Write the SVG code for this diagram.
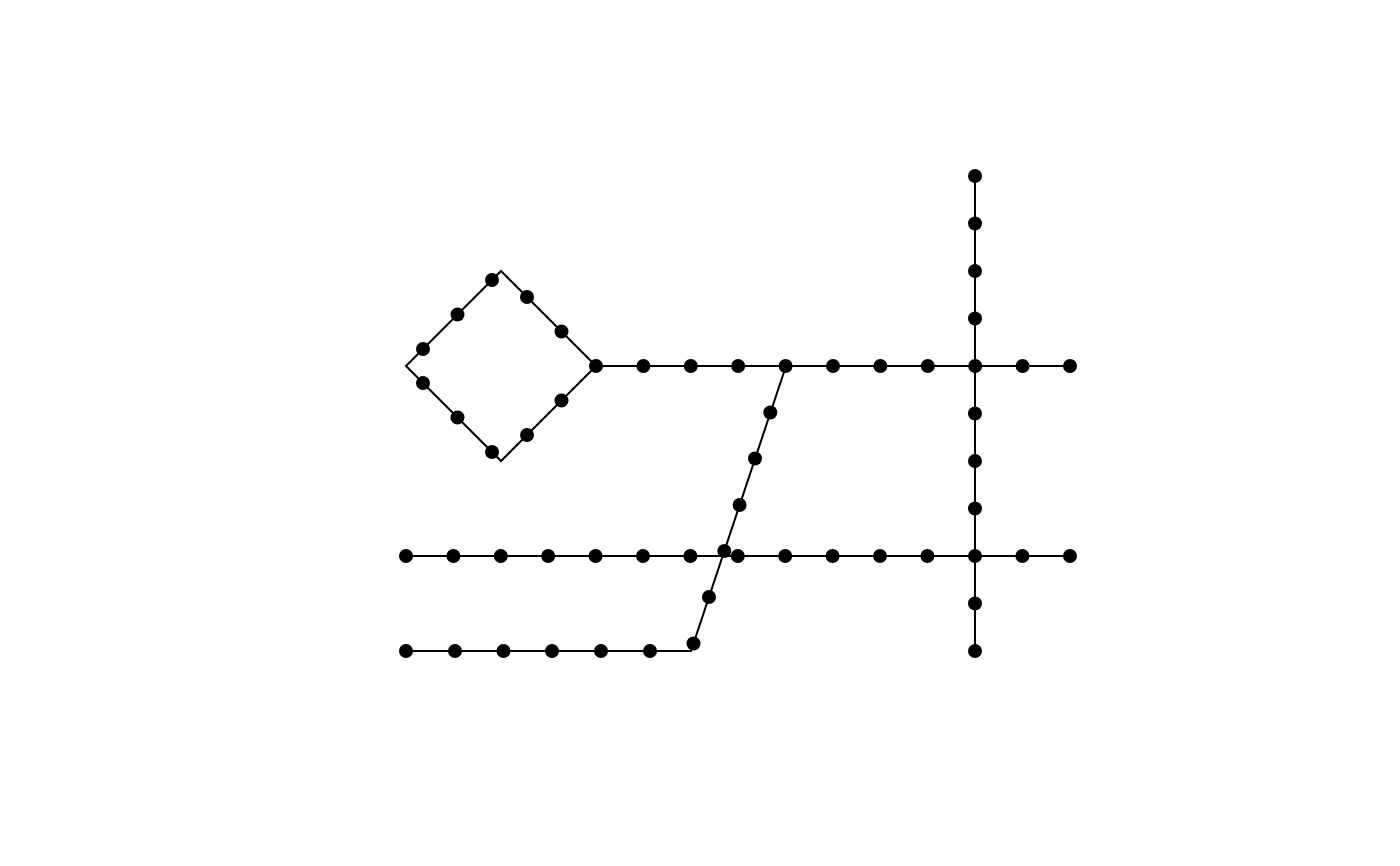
<svg xmlns="http://www.w3.org/2000/svg" width="1400" height="866" viewBox="0 0 1400 866">
<style>
.e{fill:none;stroke:#000;stroke-width:2;stroke-linejoin:miter}
.n{fill:#000}
</style>
<rect width="1400" height="866" fill="#fff"/>
<g id="connectors">
<path class="e" d="M596,366 L501,271 L406,366 L501,461 Z"/>
<path class="e" d="M596,366 L1070,366"/>
<path class="e" d="M975,176 L975,651"/>
<path class="e" d="M406,556 L1070,556"/>
<path class="e" d="M406,651 L691,651 L786,366"/>
</g>
<g id="nodes">
<g id="diamond">
<circle class="n" cx="423" cy="349" r="7"/>
<circle class="n" cx="457.5" cy="314.5" r="7"/>
<circle class="n" cx="492" cy="280" r="7"/>
<circle class="n" cx="527" cy="297" r="7"/>
<circle class="n" cx="561.5" cy="331.5" r="7"/>
<circle class="n" cx="561.5" cy="400.5" r="7"/>
<circle class="n" cx="527" cy="435" r="7"/>
<circle class="n" cx="492" cy="452" r="7"/>
<circle class="n" cx="457.5" cy="417.5" r="7"/>
<circle class="n" cx="423" cy="383" r="7"/>
</g>
<g id="top-row">
<circle class="n" cx="596" cy="366" r="7"/>
<circle class="n" cx="643.4" cy="366" r="7"/>
<circle class="n" cx="690.8" cy="366" r="7"/>
<circle class="n" cx="738.2" cy="366" r="7"/>
<circle class="n" cx="785.6" cy="366" r="7"/>
<circle class="n" cx="833" cy="366" r="7"/>
<circle class="n" cx="880.4" cy="366" r="7"/>
<circle class="n" cx="927.8" cy="366" r="7"/>
<circle class="n" cx="975.2" cy="366" r="7"/>
<circle class="n" cx="1022.6" cy="366" r="7"/>
<circle class="n" cx="1070" cy="366" r="7"/>
</g>
<g id="vertical">
<circle class="n" cx="975" cy="176" r="7"/>
<circle class="n" cx="975" cy="223.5" r="7"/>
<circle class="n" cx="975" cy="271" r="7"/>
<circle class="n" cx="975" cy="318.5" r="7"/>
<circle class="n" cx="975" cy="413.5" r="7"/>
<circle class="n" cx="975" cy="461" r="7"/>
<circle class="n" cx="975" cy="508.5" r="7"/>
<circle class="n" cx="975" cy="603.5" r="7"/>
<circle class="n" cx="975" cy="651" r="7"/>
</g>
<g id="middle-row">
<circle class="n" cx="406" cy="556" r="7"/>
<circle class="n" cx="453.4" cy="556" r="7"/>
<circle class="n" cx="500.8" cy="556" r="7"/>
<circle class="n" cx="548.2" cy="556" r="7"/>
<circle class="n" cx="595.6" cy="556" r="7"/>
<circle class="n" cx="643" cy="556" r="7"/>
<circle class="n" cx="690.4" cy="556" r="7"/>
<circle class="n" cx="737.8" cy="556" r="7"/>
<circle class="n" cx="785.2" cy="556" r="7"/>
<circle class="n" cx="832.6" cy="556" r="7"/>
<circle class="n" cx="880" cy="556" r="7"/>
<circle class="n" cx="927.4" cy="556" r="7"/>
<circle class="n" cx="975" cy="556" r="7"/>
<circle class="n" cx="1022.4" cy="556" r="7"/>
<circle class="n" cx="1070" cy="556" r="7"/>
</g>
<g id="bottom-row">
<circle class="n" cx="406" cy="651" r="7"/>
<circle class="n" cx="455" cy="651" r="7"/>
<circle class="n" cx="503.5" cy="651" r="7"/>
<circle class="n" cx="552" cy="651" r="7"/>
<circle class="n" cx="601" cy="651" r="7"/>
<circle class="n" cx="650" cy="651" r="7"/>
</g>
<g id="diagonal">
<circle class="n" cx="693.5" cy="643.5" r="7"/>
<circle class="n" cx="709" cy="597" r="7"/>
<circle class="n" cx="724.3" cy="551" r="7"/>
<circle class="n" cx="739.6" cy="505" r="7"/>
<circle class="n" cx="755" cy="458.5" r="7"/>
<circle class="n" cx="770.3" cy="412.5" r="7"/>
</g>
</g>
</svg>
